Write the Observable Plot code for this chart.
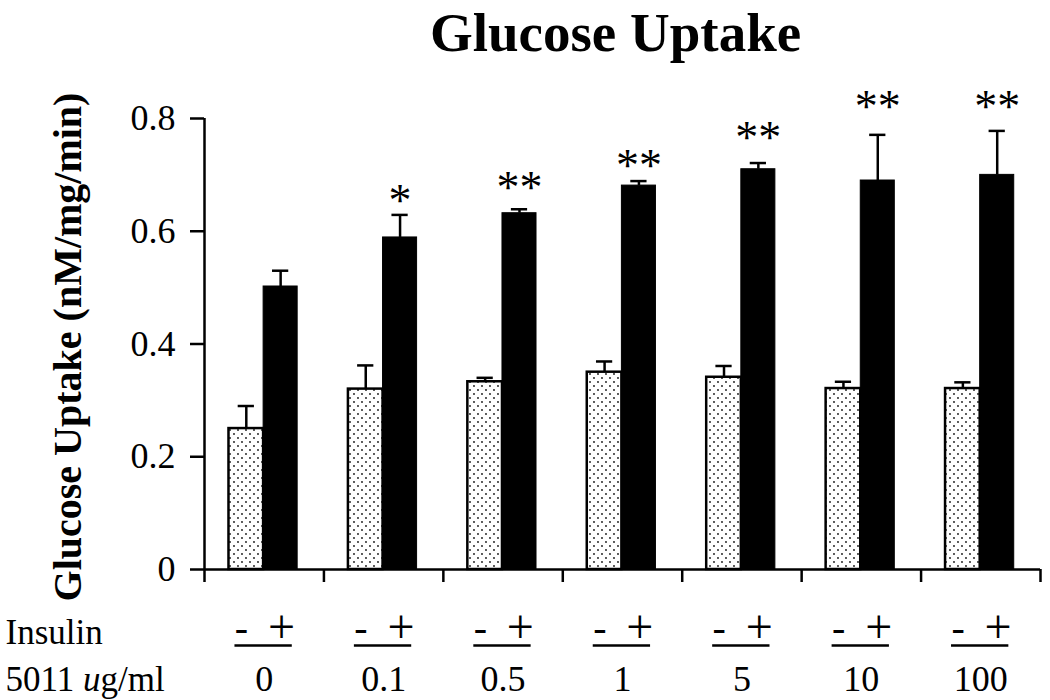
<!DOCTYPE html>
<html>
<head>
<meta charset="utf-8">
<script src="https://cdn.jsdelivr.net/npm/d3@7"></script>
<script src="https://cdn.jsdelivr.net/npm/@observablehq/plot@0.6"></script>
<style>
  html, body { margin: 0; padding: 0; background: white; }
  #chart { width: 1050px; height: 700px; }
</style>
</head>
<body>
<div id="chart"></div>
<script>
// ---- data ----
const doses = ["0", "0.1", "0.5", "1", "5", "10", "100"];
const minusMean = [0.25, 0.32, 0.333, 0.35, 0.341, 0.321, 0.321];
const minusErr  = [0.04, 0.042, 0.007, 0.019, 0.02, 0.012, 0.011];
const plusMean  = [0.502, 0.589, 0.632, 0.681, 0.71, 0.69, 0.70];
const plusErr   = [0.028, 0.04, 0.007, 0.008, 0.011, 0.081, 0.078];
const stars     = ["", "*", "**", "**", "**", "**", "**"];
const starLevel = [null, 0.668, 0.69, 0.73, 0.78, 0.835, 0.835];
const yTicks    = [0, 0.2, 0.4, 0.6, 0.8];
const title     = "Glucose Uptake";
const yLabel    = "Glucose Uptake (nM/mg/min)";
const rowLabels = ["Insulin", "5011 ug/ml"];

const rows = doses.map((dose, i) => ({
  dose, i,
  minus: minusMean[i], minusTop: minusMean[i] + minusErr[i],
  plus: plusMean[i], plusTop: plusMean[i] + plusErr[i],
  star: stars[i], starY: starLevel[i]
}));
const starRows = rows.filter(d => d.star);

// layout constants
const W = 1050, H = 700, MT = 118, MB = 131;
const yMax = 0.8;
const unitsPerPx = yMax / (H - MT - MB);
const L1 = 0.205, MID = 0.495, R2 = 0.78;
const cMinus = (L1 + MID) / 2, cPlus = (MID + R2) / 2, cap = 0.068;
const SW = 2.5;
const serif = "'Liberation Serif','Times New Roman',Times,serif";

const plot = Plot.plot({
  width: W, height: H, marginLeft: 204, marginRight: 10, marginTop: MT, marginBottom: MB,
  style: { fontFamily: serif, color: "black", background: "white", overflow: "visible" },
  x: { type: "linear", domain: [0, doses.length] },
  y: { domain: [0, yMax] },
  marks: [
    Plot.axisY({ ticks: yTicks, tickSize: 14, tickPadding: 15, fontSize: 36,
      tickFormat: d => d === 0 ? "0" : d.toFixed(1), strokeWidth: SW, label: null }),
    Plot.axisX({ ticks: d3.range(doses.length + 1), tickSize: 13, tickFormat: () => "",
      strokeWidth: SW, label: null }),
    // error bars
    Plot.ruleX(rows, { x: d => d.i + cMinus, y1: "minus", y2: "minusTop", strokeWidth: SW }),
    Plot.ruleY(rows, { y: "minusTop", x1: d => d.i + cMinus - cap, x2: d => d.i + cMinus + cap, strokeWidth: SW }),
    Plot.ruleX(rows, { x: d => d.i + cPlus, y1: "plus", y2: "plusTop", strokeWidth: SW }),
    Plot.ruleY(rows, { y: "plusTop", x1: d => d.i + cPlus - cap, x2: d => d.i + cPlus + cap, strokeWidth: SW }),
    // bars
    Plot.rectY(rows, { x1: d => d.i + L1, x2: d => d.i + MID, y1: 0, y2: "minus",
      fill: "url(#dots)", stroke: "black", strokeWidth: SW }),
    Plot.rectY(rows, { x1: d => d.i + MID, x2: d => d.i + R2, y1: 0, y2: "plus",
      fill: "black", stroke: "black", strokeWidth: 1 }),
    // axis lines
    Plot.ruleY([0], { strokeWidth: SW }),
    Plot.ruleX([0], { y1: 0, y2: yMax, strokeWidth: SW }),
    // significance stars
    Plot.text(starRows, { x: d => d.i + cPlus, y: "starY", text: "star", fontSize: 46,
      lineAnchor: "middle", dy: 8 }),
    // insulin - / + row
    Plot.text(rows, { x: d => d.i + 0.31, text: () => "-", frameAnchor: "bottom",
      lineAnchor: "bottom", dy: 71, fontSize: 40 }),
    Plot.text(rows, { x: d => d.i + 0.645, text: () => "+", frameAnchor: "bottom",
      lineAnchor: "bottom", dy: 73, fontSize: 48 }),
    Plot.ruleY(rows, { y: () => -76 * unitsPerPx, x1: d => d.i + 0.255, x2: d => d.i + 0.735,
      strokeWidth: SW, ariaLabel: "underline" }),
    // dose labels
    Plot.text(rows, { x: d => d.i + 0.5, text: "dose", frameAnchor: "bottom",
      lineAnchor: "bottom", dy: 121, fontSize: 36 }),
    // row labels
    Plot.text([rowLabels[0]], { frameAnchor: "bottom-left", textAnchor: "start",
      lineAnchor: "bottom", dx: -199, dy: 74, fontSize: 35 }),
    Plot.text([rowLabels[1]], { frameAnchor: "bottom-left", textAnchor: "start",
      lineAnchor: "bottom", dx: -199, dy: 121, fontSize: 35 }),
    // y-axis label
    Plot.text([yLabel], { frameAnchor: "left", textAnchor: "middle", rotate: -90, dx: -136, dy: 3,
      fontSize: 40, fontWeight: "bold" }),
    // title
    Plot.text([title], { frameAnchor: "top", lineAnchor: "bottom", dy: -68, dx: -7,
      fontSize: 55, fontWeight: "bold" })
  ]
});

// dotted fill pattern
const svg = d3.select(plot);
const defs = svg.insert("defs", ":first-child");
const pat = defs.append("pattern").attr("id", "dots").attr("patternUnits", "userSpaceOnUse")
  .attr("width", 8).attr("height", 8);
pat.append("rect").attr("width", 8).attr("height", 8).attr("fill", "white");
pat.append("circle").attr("cx", 2).attr("cy", 2).attr("r", 0.9).attr("fill", "#111");
pat.append("circle").attr("cx", 6).attr("cy", 6).attr("r", 0.9).attr("fill", "#111");

document.getElementById("chart").appendChild(plot);

// italic "u" in the dose row label
Array.from(plot.querySelectorAll("text")).forEach(el => {
  if (el.textContent === rowLabels[1]) {
    const t = d3.select(el);
    t.text(null);
    t.append("tspan").text("5011 ");
    t.append("tspan").attr("font-style", "italic").text("u");
    t.append("tspan").text("g/ml");
  }
});
</script>
</body>
</html>
